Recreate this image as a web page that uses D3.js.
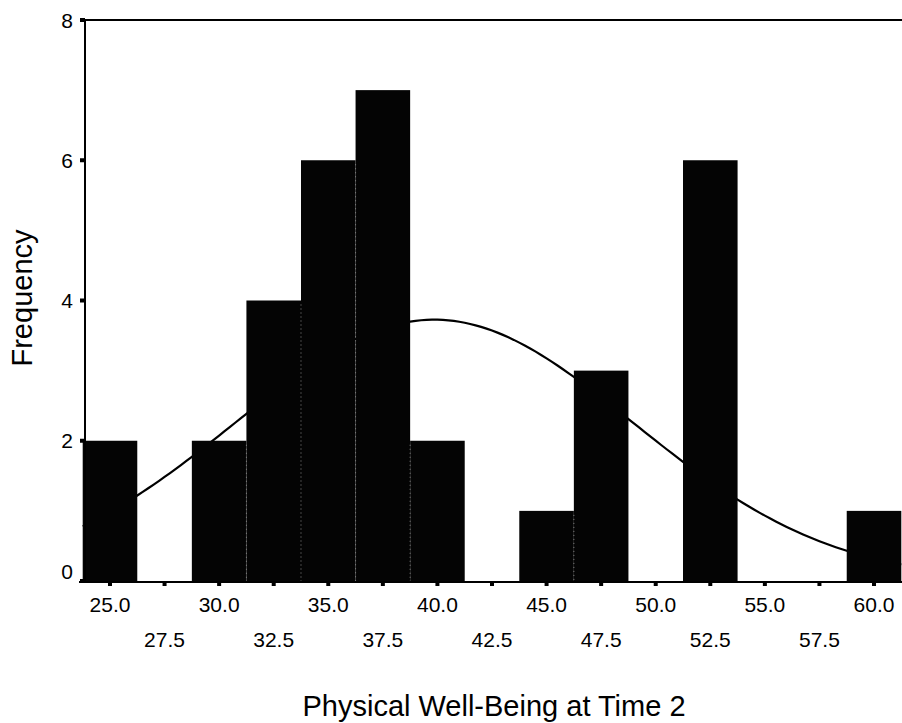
<!DOCTYPE html>
<html>
<head>
<meta charset="utf-8">
<script src="https://cdn.jsdelivr.net/npm/d3@7"></script>
<style>
  body { margin: 0; background: #fff; }
  svg { display: block; font-family: "Liberation Sans", Arial, sans-serif; }
</style>
</head>
<body>
<div id="chart"></div>
<script>
const W = 902, H = 723;

// histogram data, bins of width 2.5
const binCenters = [25.0, 27.5, 30.0, 32.5, 35.0, 37.5, 40.0, 42.5, 45.0, 47.5, 50.0, 52.5, 55.0, 57.5, 60.0];
const counts     = [2,    0,    2,    4,    6,    7,    2,    0,    1,    3,    0,    6,    0,    0,    1];
const binWidth = 2.5;
const yTicks = [0, 2, 4, 6, 8];

// normal curve parameters
const curveMean = 39.85;
const curveSd = 9.1;
const nTotal = d3.sum(counts);

const svg = d3.select("#chart").append("svg")
    .attr("width", W).attr("height", H);

let x = d3.scaleLinear()
    .domain([binCenters[0] - binWidth / 2, binCenters[binCenters.length - 1] + binWidth / 2])
    .range([82.7, 901.3]);
let y = d3.scaleLinear().domain([0, 8]).range([581, 20]);

const axisX = 85;

// normal curve (drawn behind the bars)
let curvePts = d3.range(x.domain()[0], x.domain()[1] + 0.01, 0.25).map(v => {
    let z = (v - curveMean) / curveSd;
    let dens = nTotal * binWidth / (curveSd * Math.sqrt(2 * Math.PI)) * Math.exp(-0.5 * z * z);
    return [v, dens];
});
svg.append("path")
    .datum(curvePts)
    .attr("fill", "none")
    .attr("stroke", "#000")
    .attr("stroke-width", 2.2)
    .attr("d", d3.line().x(d => x(d[0])).y(d => y(d[1])));

let bins = binCenters.map((c, i) => ({ c: c, n: counts[i], prev: i > 0 ? counts[i - 1] : 0 }));

// bars
svg.selectAll("rect.bar").data(bins.filter(d => d.n > 0)).enter().append("rect")
    .attr("class", "bar")
    .attr("x", d => x(d.c - binWidth / 2))
    .attr("width", d => x(d.c + binWidth / 2) - x(d.c - binWidth / 2))
    .attr("y", d => y(d.n))
    .attr("height", d => y(0) - y(d.n))
    .attr("fill", "#040404");

// faint dotted seams between adjacent bars
svg.selectAll("line.seam").data(bins.filter(d => d.n > 0 && d.prev > 0)).enter().append("line")
    .attr("class", "seam")
    .attr("x1", d => x(d.c - binWidth / 2)).attr("x2", d => x(d.c - binWidth / 2))
    .attr("y1", d => y(Math.min(d.n, d.prev)) + 4).attr("y2", y(0))
    .attr("stroke", "#8a8a8a")
    .attr("stroke-width", 1)
    .attr("stroke-dasharray", "1,3");

// frame: left axis, top line, bottom axis
svg.append("line").attr("x1", axisX).attr("x2", axisX).attr("y1", y(8)).attr("y2", y(0))
    .attr("stroke", "#000").attr("stroke-width", 2);
svg.append("line").attr("x1", axisX).attr("x2", W).attr("y1", y(8)).attr("y2", y(8))
    .attr("stroke", "#000").attr("stroke-width", 2);
svg.append("line").attr("x1", 79).attr("x2", W).attr("y1", y(0) + 1).attr("y2", y(0) + 1)
    .attr("stroke", "#000").attr("stroke-width", 2);

// y ticks
svg.selectAll("rect.ytick").data(yTicks).enter().append("rect")
    .attr("class", "ytick")
    .attr("x", axisX - 5).attr("width", 5)
    .attr("y", d => y(d) - 2).attr("height", 4)
    .attr("fill", "#000");
svg.selectAll("text.ylab").data(yTicks).enter().append("text")
    .attr("class", "ylab")
    .attr("x", 73)
    .attr("y", d => y(d) - (d === 0 ? 10 : 0))
    .attr("dy", "0.36em")
    .attr("text-anchor", "end")
    .attr("font-size", 21)
    .text(d => d);

// x ticks (small marks under the axis)
svg.selectAll("rect.xtick").data(binCenters).enter().append("rect")
    .attr("class", "xtick")
    .attr("x", d => x(d) - 2).attr("width", 4)
    .attr("y", y(0) + 1).attr("height", 4)
    .attr("fill", "#000");
svg.selectAll("text.xlab").data(binCenters).enter().append("text")
    .attr("class", "xlab")
    .attr("x", d => x(d))
    .attr("y", (d, i) => i % 2 === 0 ? 612 : 647)
    .attr("text-anchor", "middle")
    .attr("font-size", 21)
    .text(d => d.toFixed(1));

// axis titles
svg.append("text")
    .attr("transform", "translate(32," + 298 + ") rotate(-90)")
    .attr("text-anchor", "middle")
    .attr("font-size", 29)
    .text("Frequency");
svg.append("text")
    .attr("x", 494).attr("y", 716)
    .attr("text-anchor", "middle")
    .attr("font-size", 29)
    .text("Physical Well-Being at Time 2");
</script>
</body>
</html>
